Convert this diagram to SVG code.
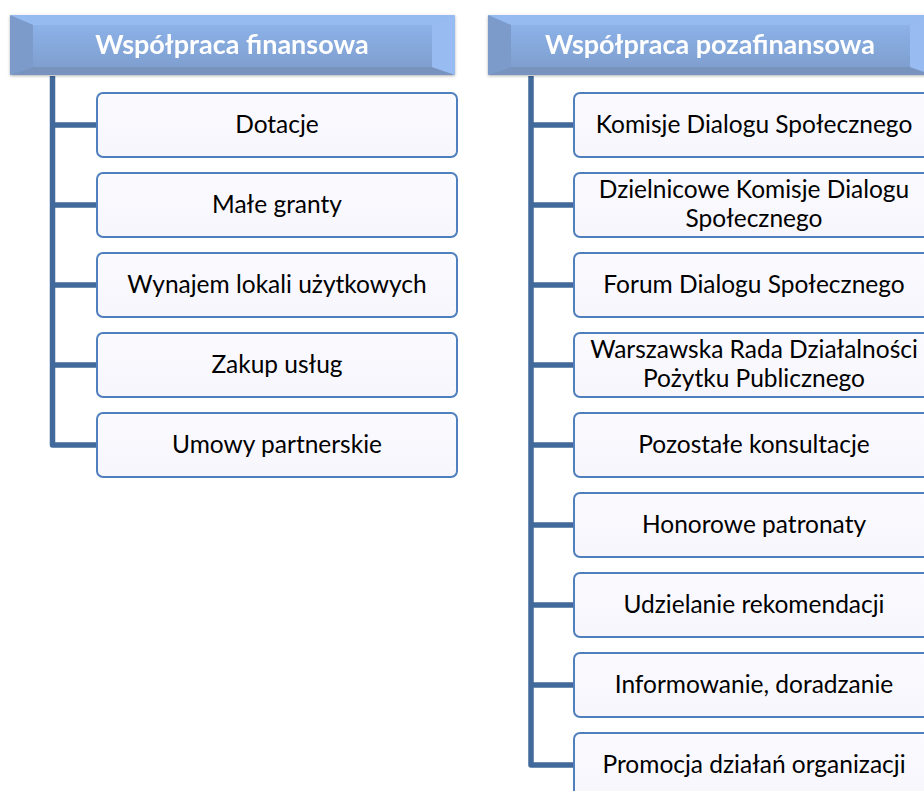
<svg xmlns="http://www.w3.org/2000/svg" width="924" height="791" viewBox="0 0 924 791">
<defs>
<linearGradient id="face" x1="0" y1="0" x2="0" y2="1">
<stop offset="0" stop-color="#8cb2e8"/>
<stop offset="1" stop-color="#7f9fcf"/>
</linearGradient>
<linearGradient id="boxfill" x1="0" y1="0" x2="0" y2="1">
<stop offset="0" stop-color="#fbfaff"/>
<stop offset="1" stop-color="#f7f6fc"/>
</linearGradient>
<filter id="sh" x="-5%" y="-20%" width="110%" height="150%">
<feDropShadow dx="0" dy="1" stdDeviation="1.5" flood-color="#000" flood-opacity="0.3"/>
</filter>
</defs>
<style>
.hdr-bg{fill:url(#face);}
.bev-t{fill:#96bbf0;}
.bev-b{fill:#7893bd;}
.bev-l{fill:#7b9bcb;}
.bev-r{fill:#98bbf2;}
.hdr-txt{font-family:Lato,"Open Sans","Liberation Sans",sans-serif;font-weight:bold;font-size:27px;fill:#ffffff;text-anchor:middle;}
.box{fill:url(#boxfill);stroke:#4f7fbc;stroke-width:2;}
.txt{font-family:Lato,"Open Sans","Liberation Sans",sans-serif;font-size:24.5px;fill:#000000;text-anchor:middle;}
.con{fill:none;stroke:#41699b;stroke-width:5.5;stroke-linejoin:round;}
</style>

<g id="connectors">
<path class="con" d="M52.5,76 V445 H97"/>
<path class="con" d="M52.5,125 H97 M52.5,205 H97 M52.5,285 H97 M52.5,365 H97"/>
<path class="con" d="M531,76 V765 H574"/>
<path class="con" d="M531,125 H574 M531,205 H574 M531,285 H574 M531,365 H574 M531,445 H574 M531,525 H574 M531,605 H574 M531,685 H574"/>
</g>

<g id="hdr-fin" filter="url(#sh)">
<rect class="hdr-bg" x="10" y="15" width="445" height="60" rx="3"/>
<polygon class="bev-t" points="10,15 455,15 432,25 33,25"/>
<polygon class="bev-b" points="10,75 455,75 432,67 33,67"/>
<polygon class="bev-l" points="10,15 33,25 33,67 10,75"/>
<polygon class="bev-r" points="455,15 432,25 432,67 455,75"/>
<rect x="33" y="25" width="399" height="42" fill="url(#face)"/>
<text class="hdr-txt" x="232" y="54">Współpraca finansowa</text>
</g>

<g id="hdr-pozafin" filter="url(#sh)">
<rect class="hdr-bg" x="488" y="15" width="445" height="60" rx="3"/>
<polygon class="bev-t" points="488,15 933,15 910,25 511,25"/>
<polygon class="bev-b" points="488,75 933,75 910,67 511,67"/>
<polygon class="bev-l" points="488,15 511,25 511,67 488,75"/>
<polygon class="bev-r" points="933,15 910,25 910,67 933,75"/>
<rect x="511" y="25" width="399" height="42" fill="url(#face)"/>
<text class="hdr-txt" x="710" y="54">Współpraca pozafinansowa</text>
</g>

<g id="n-dotacje"><rect class="box" x="97" y="93" width="360" height="64" rx="6"/><text class="txt" x="277" y="133">Dotacje</text></g>
<g id="n-granty"><rect class="box" x="97" y="173" width="360" height="64" rx="6"/><text class="txt" x="277" y="213">Małe granty</text></g>
<g id="n-wynajem"><rect class="box" x="97" y="253" width="360" height="64" rx="6"/><text class="txt" x="277" y="293">Wynajem lokali użytkowych</text></g>
<g id="n-zakup"><rect class="box" x="97" y="333" width="360" height="64" rx="6"/><text class="txt" x="277" y="373">Zakup usług</text></g>
<g id="n-umowy"><rect class="box" x="97" y="413" width="360" height="64" rx="6"/><text class="txt" x="277" y="453">Umowy partnerskie</text></g>

<g id="n-komisje"><rect class="box" x="574" y="93" width="360" height="64" rx="6"/><text class="txt" x="754" y="133">Komisje Dialogu Społecznego</text></g>
<g id="n-dzielnicowe"><rect class="box" x="574" y="173" width="360" height="64" rx="6"/><text class="txt" x="754" y="198">Dzielnicowe Komisje Dialogu</text><text class="txt" x="754" y="227">Społecznego</text></g>
<g id="n-forum"><rect class="box" x="574" y="253" width="360" height="64" rx="6"/><text class="txt" x="754" y="293">Forum Dialogu Społecznego</text></g>
<g id="n-rada"><rect class="box" x="574" y="333" width="360" height="64" rx="6"/><text class="txt" x="754" y="358">Warszawska Rada Działalności</text><text class="txt" x="754" y="387">Pożytku Publicznego</text></g>
<g id="n-konsultacje"><rect class="box" x="574" y="413" width="360" height="64" rx="6"/><text class="txt" x="754" y="453">Pozostałe konsultacje</text></g>
<g id="n-patronaty"><rect class="box" x="574" y="493" width="360" height="64" rx="6"/><text class="txt" x="754" y="533">Honorowe patronaty</text></g>
<g id="n-rekomendacje"><rect class="box" x="574" y="573" width="360" height="64" rx="6"/><text class="txt" x="754" y="613">Udzielanie rekomendacji</text></g>
<g id="n-informowanie"><rect class="box" x="574" y="653" width="360" height="64" rx="6"/><text class="txt" x="754" y="693">Informowanie, doradzanie</text></g>
<g id="n-promocja"><rect class="box" x="574" y="733" width="360" height="64" rx="6"/><text class="txt" x="754" y="773">Promocja działań organizacji</text></g>
</svg>
